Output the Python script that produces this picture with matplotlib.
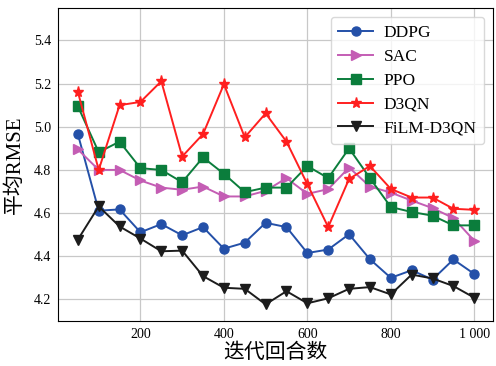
import matplotlib.pyplot as plt
from matplotlib.ticker import FixedLocator, FixedFormatter

plt.rcParams['font.family'] = ['Liberation Serif', 'Noto Sans CJK SC']

episodes = [50, 100, 150, 200, 250, 300, 350, 400, 450, 500,
            550, 600, 650, 700, 750, 800, 850, 900, 950, 1000]

ddpg = [4.966, 4.611, 4.617, 4.511, 4.549, 4.497, 4.535, 4.435, 4.463, 4.555,
        4.535, 4.415, 4.431, 4.502, 4.386, 4.300, 4.335, 4.292, 4.385, 4.318]
sac = [4.895, 4.800, 4.800, 4.751, 4.718, 4.708, 4.723, 4.677, 4.677, 4.703,
       4.762, 4.689, 4.711, 4.811, 4.723, 4.695, 4.658, 4.623, 4.577, 4.472]
ppo = [5.095, 4.882, 4.931, 4.808, 4.800, 4.743, 4.858, 4.782, 4.697, 4.718,
       4.718, 4.818, 4.762, 4.900, 4.762, 4.628, 4.605, 4.588, 4.543, 4.543]
d3qn = [5.162, 4.800, 5.100, 5.115, 5.211, 4.862, 4.966, 5.197, 4.951, 5.062,
        4.931, 4.734, 4.535, 4.758, 4.818, 4.712, 4.672, 4.672, 4.620, 4.615]
film = [4.477, 4.631, 4.538, 4.482, 4.423, 4.426, 4.308, 4.254, 4.249, 4.177,
        4.238, 4.182, 4.205, 4.249, 4.257, 4.223, 4.315, 4.297, 4.262, 4.208]

xticks = [200, 400, 600, 800, 1000]
xticklabels = ['200', '400', '600', '800', '1 000']
yticks = [4.2, 4.4, 4.6, 4.8, 5.0, 5.2, 5.4]

fig = plt.figure(figsize=(4.96, 3.66), dpi=100)
ax = fig.add_axes([0.117, 0.123, 0.877, 0.855])

ax.plot(episodes, ddpg, color='#2450a8', linewidth=1.4, marker='o', markersize=6.5, label='DDPG')
ax.plot(episodes, sac, color='#c45db4', linewidth=1.4, marker='>', markersize=7.5, label='SAC')
ax.plot(episodes, ppo, color='#0b7d3c', linewidth=1.4, marker='s', markersize=6.5, label='PPO')
ax.plot(episodes, d3qn, color='#ff1f1f', linewidth=1.4, marker='*', markersize=8, label='D3QN')
ax.plot(episodes, film, color='#1c1c1c', linewidth=1.4, marker='v', markersize=7.5, label='FiLM-D3QN')

ax.xaxis.set_major_locator(FixedLocator(xticks))
ax.xaxis.set_major_formatter(FixedFormatter(xticklabels))
ax.set_yticks(yticks)
ax.set_ylim(4.1, 5.55)
ax.set_xlim(2.5, 1045)

ax.grid(True, color='#c8c8c8', linewidth=0.9)
ax.set_axisbelow(True)
ax.tick_params(direction='in', length=0, labelsize=10, pad=5)

ax.set_xlabel('迭代回合数', fontsize=15, labelpad=2)
ax.set_ylabel('平均RMSE', fontsize=15, labelpad=6)

ax.legend(loc='upper right', fontsize=12.5, handlelength=2.0, labelspacing=0.45,
          borderpad=0.45, handletextpad=0.6, framealpha=0.8, edgecolor='#d0d0d0')

plt.savefig('out.png', dpi=100)
